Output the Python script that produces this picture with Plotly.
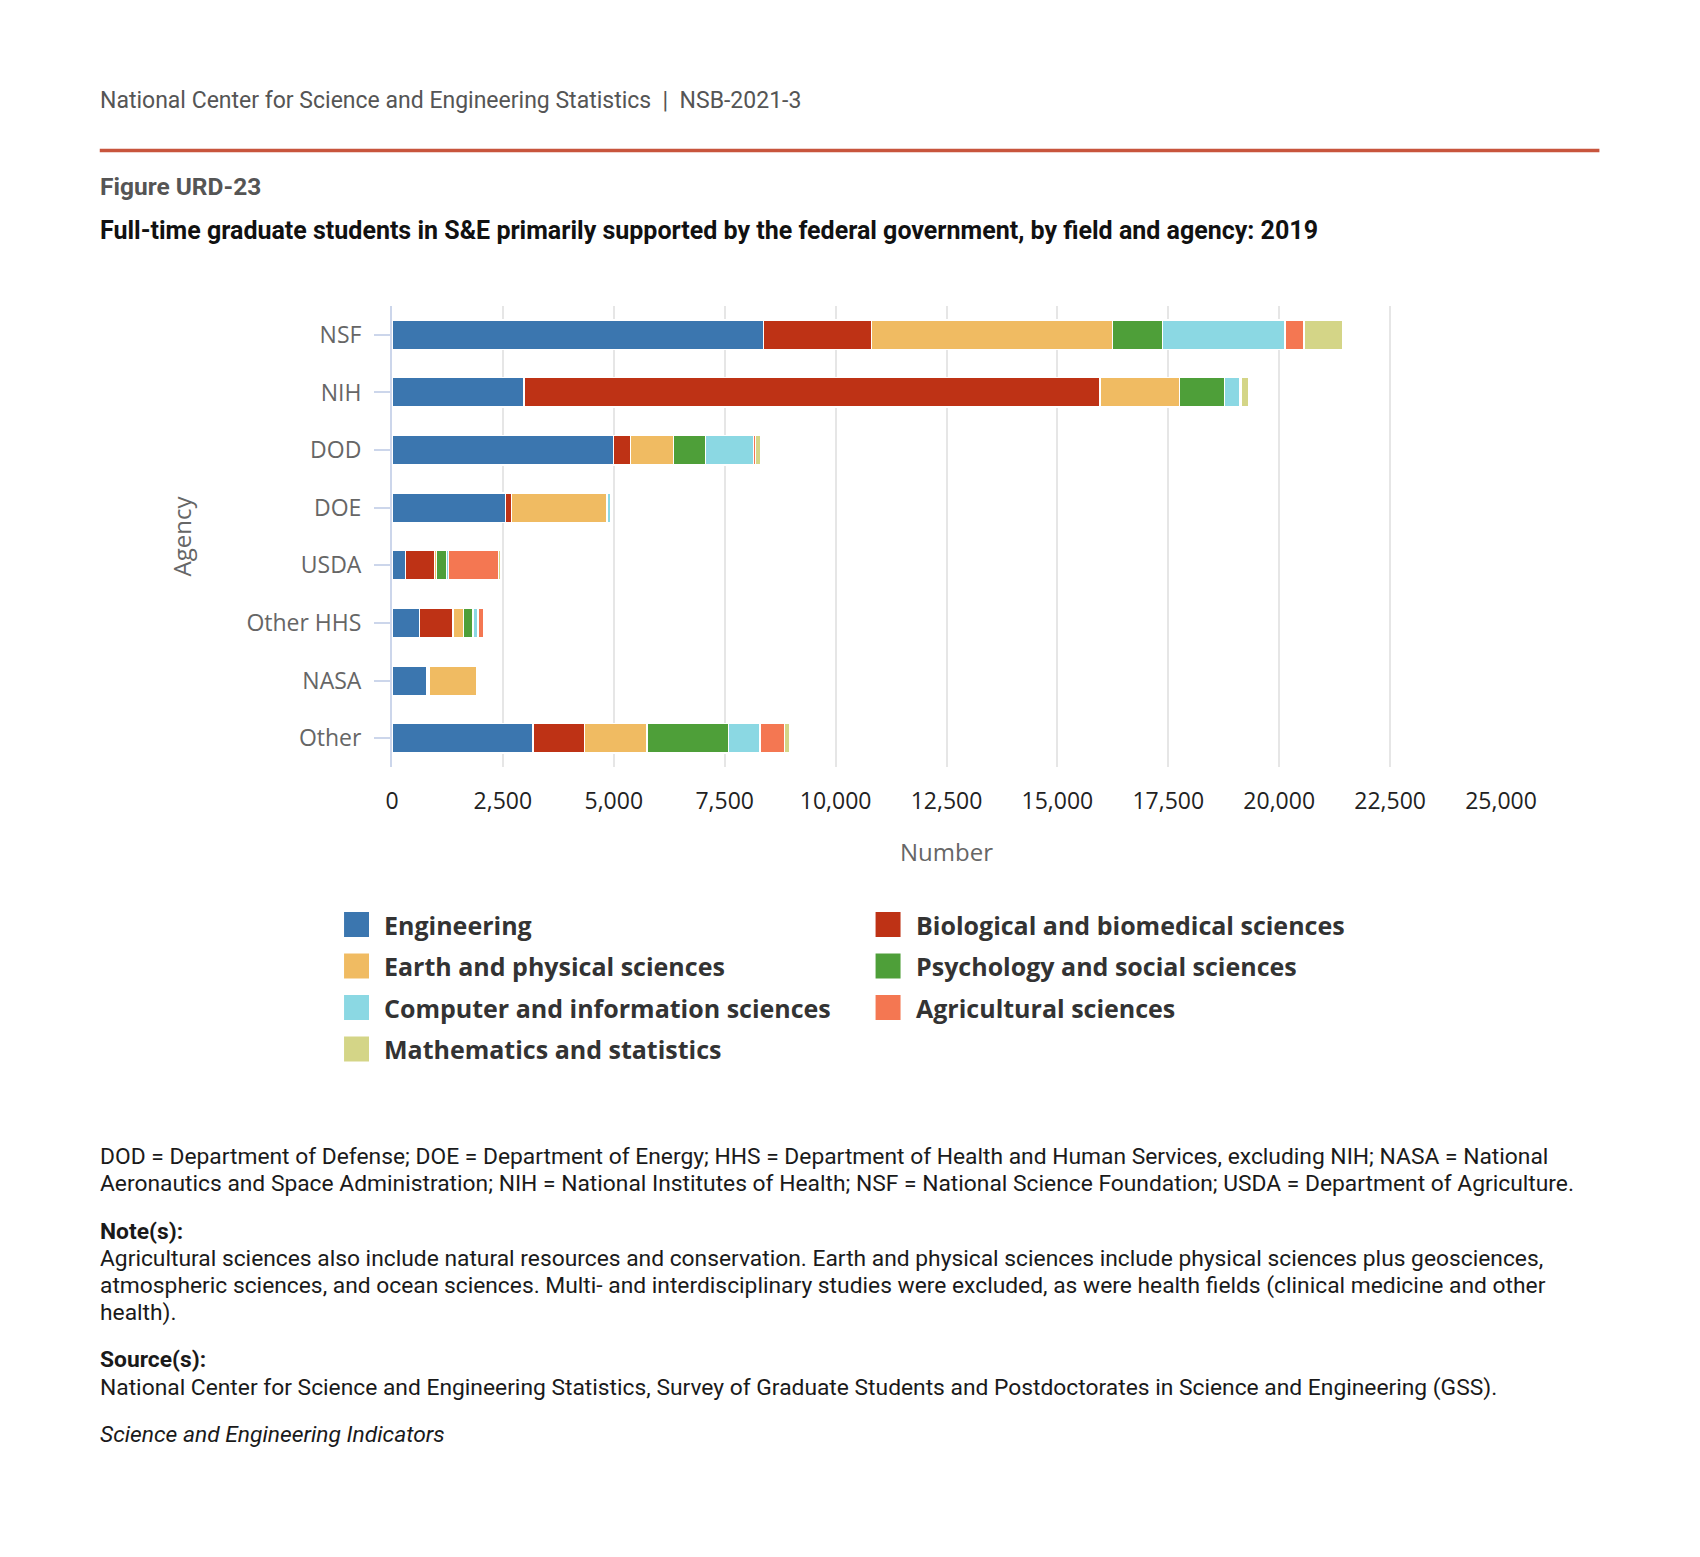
import plotly.graph_objects as go

agencies = ["NSF", "NIH", "DOD", "DOE", "USDA", "Other HHS", "NASA", "Other"]

fields = [
    "Engineering",
    "Biological and biomedical sciences",
    "Earth and physical sciences",
    "Psychology and social sciences",
    "Computer and information sciences",
    "Agricultural sciences",
    "Mathematics and statistics",
]

engineering = [8380, 2975, 4995, 2555, 305, 620, 790, 3175]
biological = [2431, 12981, 379, 135, 654, 759, 45, 1169]
earth_physical = [5428, 1801, 969, 2141, 45, 233, 1067, 1402]
psychology_social = [1125, 1013, 722, 30, 225, 218, 25, 1844]
computer_info = [2769, 338, 1082, 68, 45, 113, 20, 703]
agricultural = [427, 30, 50, 10, 1127, 135, 5, 560]
mathematics = [863, 180, 125, 25, 53, 20, 15, 112]

series_values = [engineering, biological, earth_physical, psychology_social,
                 computer_info, agricultural, mathematics]

colors = ["#3b76af", "#be3215", "#f0bb62", "#4e9f39", "#8bd8e3", "#f47752", "#d4d587"]

x_ticks = list(range(0, 25001, 2500))

W, H = 1700, 1557
L, R, T, B = 383.5, 1493.5, 298, 759  # plot area in pixels


def px(xp):
    return (xp - L) / (R - L)


def py(yp):
    return (B - yp) / (B - T)


fig = go.Figure()
for name, vals, col in zip(fields, series_values, colors):
    fig.add_trace(go.Bar(
        y=agencies, x=vals, name=name, orientation="h",
        marker=dict(color=col, line=dict(color="white", width=1.5)),
        showlegend=False,
        hovertemplate="%{y}: %{x:,}<extra>" + name + "</extra>",
    ))

tick_font = dict(family="Open Sans", size=23, color="#666666")

fig.update_layout(
    width=W, height=H,
    barmode="stack",
    bargap=0.49,
    plot_bgcolor="white",
    paper_bgcolor="white",
    margin=dict(l=L, r=W - R, t=T, b=H - B, autoexpand=False),
    xaxis=dict(
        range=[0, 25000],
        tickvals=x_ticks,
        tickformat=",d",
        showgrid=True, gridcolor="#e6e6e6", gridwidth=1.5,
        zeroline=False, showline=False,
        tickfont=dict(family="Open Sans", size=23, color="#222222"),
        ticks="", ticklabelstandoff=18,
        title=dict(text="Number", font=dict(family="Open Sans", size=24, color="#666666"), standoff=29),
        fixedrange=True,
    ),
    yaxis=dict(
        categoryorder="array", categoryarray=agencies,
        autorange="reversed",
        showline=True, linecolor="#ccd6eb", linewidth=2,
        ticks="outside", ticklen=16, tickcolor="#ccd6eb", tickwidth=2,
        ticklabelstandoff=8,
        tickfont=tick_font,
        showgrid=False, zeroline=False,
        title=dict(text="Agency", font=dict(family="Open Sans", size=24, color="#666666"), standoff=48),
        fixedrange=True,
    ),
)

annotations = []
shapes = []

def text(xp, yp, s, size, color, family="Roboto", weight="normal", style="normal"):
    annotations.append(dict(
        x=px(xp), y=py(yp), xref="paper", yref="paper",
        xanchor="left", yanchor="middle", showarrow=False, align="left",
        text=s, font=dict(family=family, size=size, color=color, weight=weight, style=style),
    ))

LX = 89
# Header
text(LX, 92.5, "National Center for Science and Engineering Statistics &nbsp;|&nbsp; NSB-2021-3", 23, "#555555")
shapes.append(dict(type="line", xref="paper", yref="paper",
                   x0=px(91), x1=px(1592), y0=py(142.5), y1=py(142.5),
                   line=dict(color="#c8553d", width=3.5)))
text(LX, 178, "Figure URD-23", 24.5, "#555555", weight="bold")
text(LX, 222.5, "Full-time graduate students in S&amp;E primarily supported by the federal government, by field and agency: 2019",
     25, "#111111", weight="bold")

# Custom legend (two columns, row-major like the original)
col_sym_x = [335.5, 867.5]
col_txt_x = [373, 906]
row_y = [916.5, 958, 999.5, 1041]
for i, (name, col) in enumerate(zip(fields, colors)):
    r, c = divmod(i, 2)
    yc = row_y[r]
    shapes.append(dict(type="rect", xref="paper", yref="paper",
                       x0=px(col_sym_x[c]), x1=px(col_sym_x[c] + 25),
                       y0=py(yc + 12.5), y1=py(yc - 12.5),
                       fillcolor=col, line=dict(width=0)))
    text(col_txt_x[c], yc, name, 25, "#333333", family="Open Sans", weight="bold")

# Footnotes
fn_size = 22.8
fn_color = "#1a1a1a"
text(LX, 1148.5, "DOD = Department of Defense; DOE = Department of Energy; HHS = Department of Health and Human Services, excluding NIH; NASA = National", fn_size, fn_color)
text(LX, 1175.5, "Aeronautics and Space Administration; NIH = National Institutes of Health; NSF = National Science Foundation; USDA = Department of Agriculture.", fn_size, fn_color)
text(LX, 1223.5, "Note(s):", fn_size, fn_color, weight="bold")
text(LX, 1250.5, "Agricultural sciences also include natural resources and conservation. Earth and physical sciences include physical sciences plus geosciences,", fn_size, fn_color)
text(LX, 1277.5, "atmospheric sciences, and ocean sciences. Multi- and interdisciplinary studies were excluded, as were health fields (clinical medicine and other", fn_size, fn_color)
text(LX, 1304.5, "health).", fn_size, fn_color)
text(LX, 1351.5, "Source(s):", fn_size, fn_color, weight="bold")
text(LX, 1379.5, "National Center for Science and Engineering Statistics, Survey of Graduate Students and Postdoctorates in Science and Engineering (GSS).", fn_size, fn_color)
text(LX, 1426.5, "Science and Engineering Indicators", fn_size, fn_color, style="italic")

fig.update_layout(annotations=annotations, shapes=shapes)

fig.write_html("out.html", config={"displayModeBar": False})
